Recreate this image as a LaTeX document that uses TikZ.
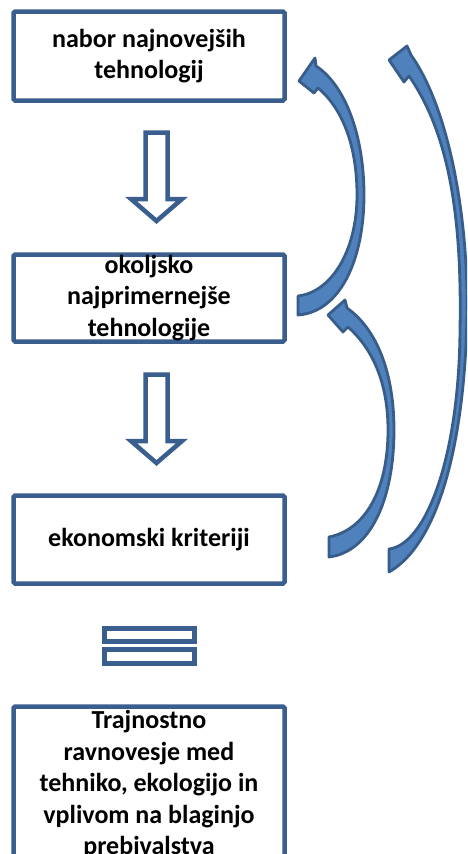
\documentclass[tikz,border=0pt]{standalone}
\usepackage{fontspec}
\setmainfont{Carlito}
\definecolor{boxblue}{HTML}{3A5F8E}
\definecolor{arrfill}{HTML}{4F81BD}
\definecolor{arrline}{HTML}{385D8A}
\begin{document}
\begin{tikzpicture}[x=1pt,y=-1pt,
  box/.style={draw=boxblue,line width=4.5pt,fill=white,rounded corners=1.5pt,
    minimum width=271pt,align=center,inner sep=0pt,
    font=\fontsize{26}{31.5}\selectfont\bfseries},
  hollow/.style={draw=boxblue,line width=4.5pt,fill=white,line join=miter},
  curved/.style={fill=arrfill,draw=arrline,line width=2.8pt,line join=round}]
\useasboundingbox (0,0) rectangle (467,854);
\begin{scope}
\clip (0,0) rectangle (467,854);
% boxes
\node[box,minimum height=89pt] (b1) at (149,56) {nabor najnovejših\\tehnologij};
\node[box,minimum height=87pt] (b2) at (149,298) {okoljsko\\najprimernejše\\tehnologije};
\node[box,minimum height=88pt] (b3) at (149,539.5) {ekonomski kriteriji};
\node[box,minimum height=156pt] (b4) at (149,784.5) {Trajnostno\\ravnovesje med\\tehniko, ekologijo in\\vplivom na blaginjo\\prebivalstva};
% hollow down arrows
\draw[hollow] (145.5,132.5) -- (167.5,132.5) -- (167.5,199) -- (182,199) -- (156.5,221)
  -- (131,199) -- (145.5,199) -- cycle;
\draw[hollow] (145.5,374.5) -- (167.5,374.5) -- (167.5,441) -- (182,441) -- (156.5,463)
  -- (131,441) -- (145.5,441) -- cycle;
% equals sign
\draw[hollow] (104.5,628.5) rectangle (194.5,641.5);
\draw[hollow] (104.5,649.5) rectangle (194.5,663.5);
% curved arrow A (b2 -> b1)
\draw[curved] (298,315) -- (298,296) .. controls (332,292) and (357,250) .. (357,195)
  .. controls (357,145) and (342,108) .. (318,88) -- (314,93) -- (299,81) -- (315,58)
  -- (316,66) .. controls (345,85) and (364,135) .. (364,195)
  .. controls (364,260) and (340,312) .. (298,315) -- cycle;
% curved arrow B (b3 -> b2)
\draw[curved] (329,557) -- (329,537) .. controls (365,530) and (388,490) .. (388,430)
  .. controls (388,385) and (374,350) .. (348,327) -- (343,332) -- (328,315) -- (345,300)
  -- (347,308) .. controls (378,330) and (394,375) .. (394,430)
  .. controls (394,500) and (370,552) .. (329,557) -- cycle;
% curved arrow C (b3 -> b1)
\draw[curved] (389,572) -- (389,549) .. controls (425,545) and (459,460) .. (460,330)
  .. controls (462,220) and (450,135) .. (409,76) -- (404,82) -- (389,60) -- (407,46)
  -- (411,55) .. controls (450,110) and (468,220) .. (467,310)
  .. controls (466,420) and (445,540) .. (389,572) -- cycle;
\end{scope}
\end{tikzpicture}
\end{document}
